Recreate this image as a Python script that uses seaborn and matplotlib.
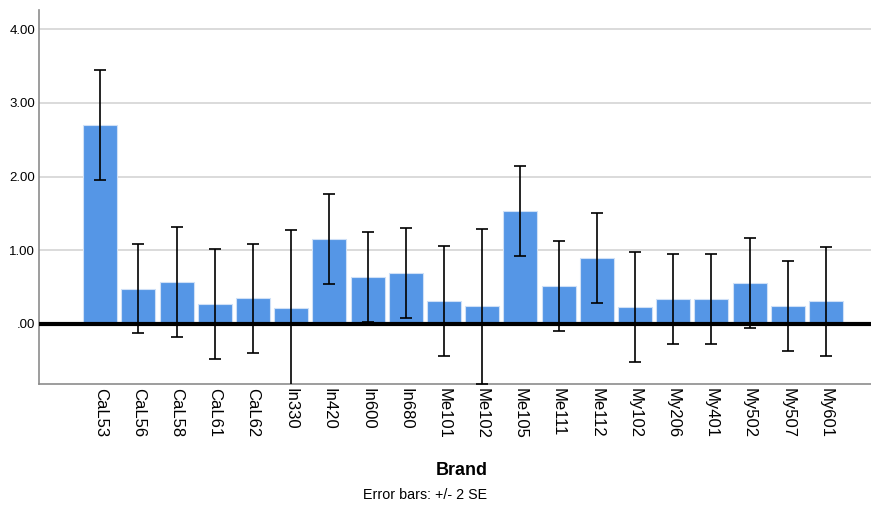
import numpy as np
import pandas as pd
import seaborn as sns
import matplotlib.pyplot as plt

brands = ["CaL53", "CaL56", "CaL58", "CaL61", "CaL62", "In330", "In420", "In600",
          "In680", "Me101", "Me102", "Me105", "Me111", "Me112", "My102", "My206",
          "My401", "My502", "My507", "My601"]
means = [2.70, 0.475, 0.57, 0.275, 0.35, 0.22, 1.15, 0.635, 0.69, 0.31,
         0.24, 1.53, 0.52, 0.895, 0.23, 0.34, 0.34, 0.56, 0.24, 0.305]
err_2se = [0.745, 0.605, 0.745, 0.745, 0.74, 1.06, 0.61, 0.61, 0.61, 0.745,
           1.05, 0.61, 0.61, 0.61, 0.745, 0.61, 0.61, 0.61, 0.61, 0.745]
yticks = [0, 1, 2, 3, 4]
ytick_labels = [".00", "1.00", "2.00", "3.00", "4.00"]

df = pd.DataFrame({"Brand": brands, "Mean": means})

sns.set_style("white")
plt.rcParams["font.family"] = ["Liberation Sans", "DejaVu Sans"]
plt.rcParams["text.color"] = "black"
plt.rcParams["xtick.color"] = "black"
plt.rcParams["ytick.color"] = "black"
plt.rcParams["axes.labelcolor"] = "black"

fig = plt.figure(figsize=(8.71, 5.09), dpi=100)
ax = fig.add_axes([0.045, 0.245, 0.955, 0.735])

sns.barplot(data=df, x="Brand", y="Mean", color="#5596e6", saturation=1,
            width=0.89, edgecolor="#cfe0f7", linewidth=0.8, errorbar=None, ax=ax, zorder=2)
ax.errorbar(np.arange(len(brands)), means, yerr=err_2se, fmt="none", ecolor="black",
            elinewidth=1.2, capsize=4, capthick=1.2, zorder=3)

ax.axhline(0, color="black", linewidth=3, zorder=4)
ax.set_ylim(-0.82, 4.26)
ax.set_xlim(-1.6, len(brands) + 0.18)
ax.set_yticks(yticks)
ax.set_yticklabels(ytick_labels, fontsize=9.5)
ax.yaxis.grid(True, color="#d4d4d4", linewidth=1.2, zorder=0)
ax.set_axisbelow(True)
ax.tick_params(axis="both", length=0, pad=3)
ax.set_xticks(range(len(brands)))
ax.set_xticklabels(brands, rotation=-90, fontsize=12, va="top", ha="center")
ax.set_ylabel("")
ax.set_xlabel("Brand", fontsize=13, fontweight="bold", va="center")
ax.xaxis.set_label_coords(0.508, -0.23)

for side in ["top", "right"]:
    ax.spines[side].set_visible(False)
for side in ["left", "bottom"]:
    ax.spines[side].set_color("#8c8c8c")
    ax.spines[side].set_linewidth(1.2)

fig.text(0.488, 0.0275, "Error bars: +/- 2 SE", fontsize=10.3, ha="center", va="center")

fig.savefig("out.png", dpi=100)
